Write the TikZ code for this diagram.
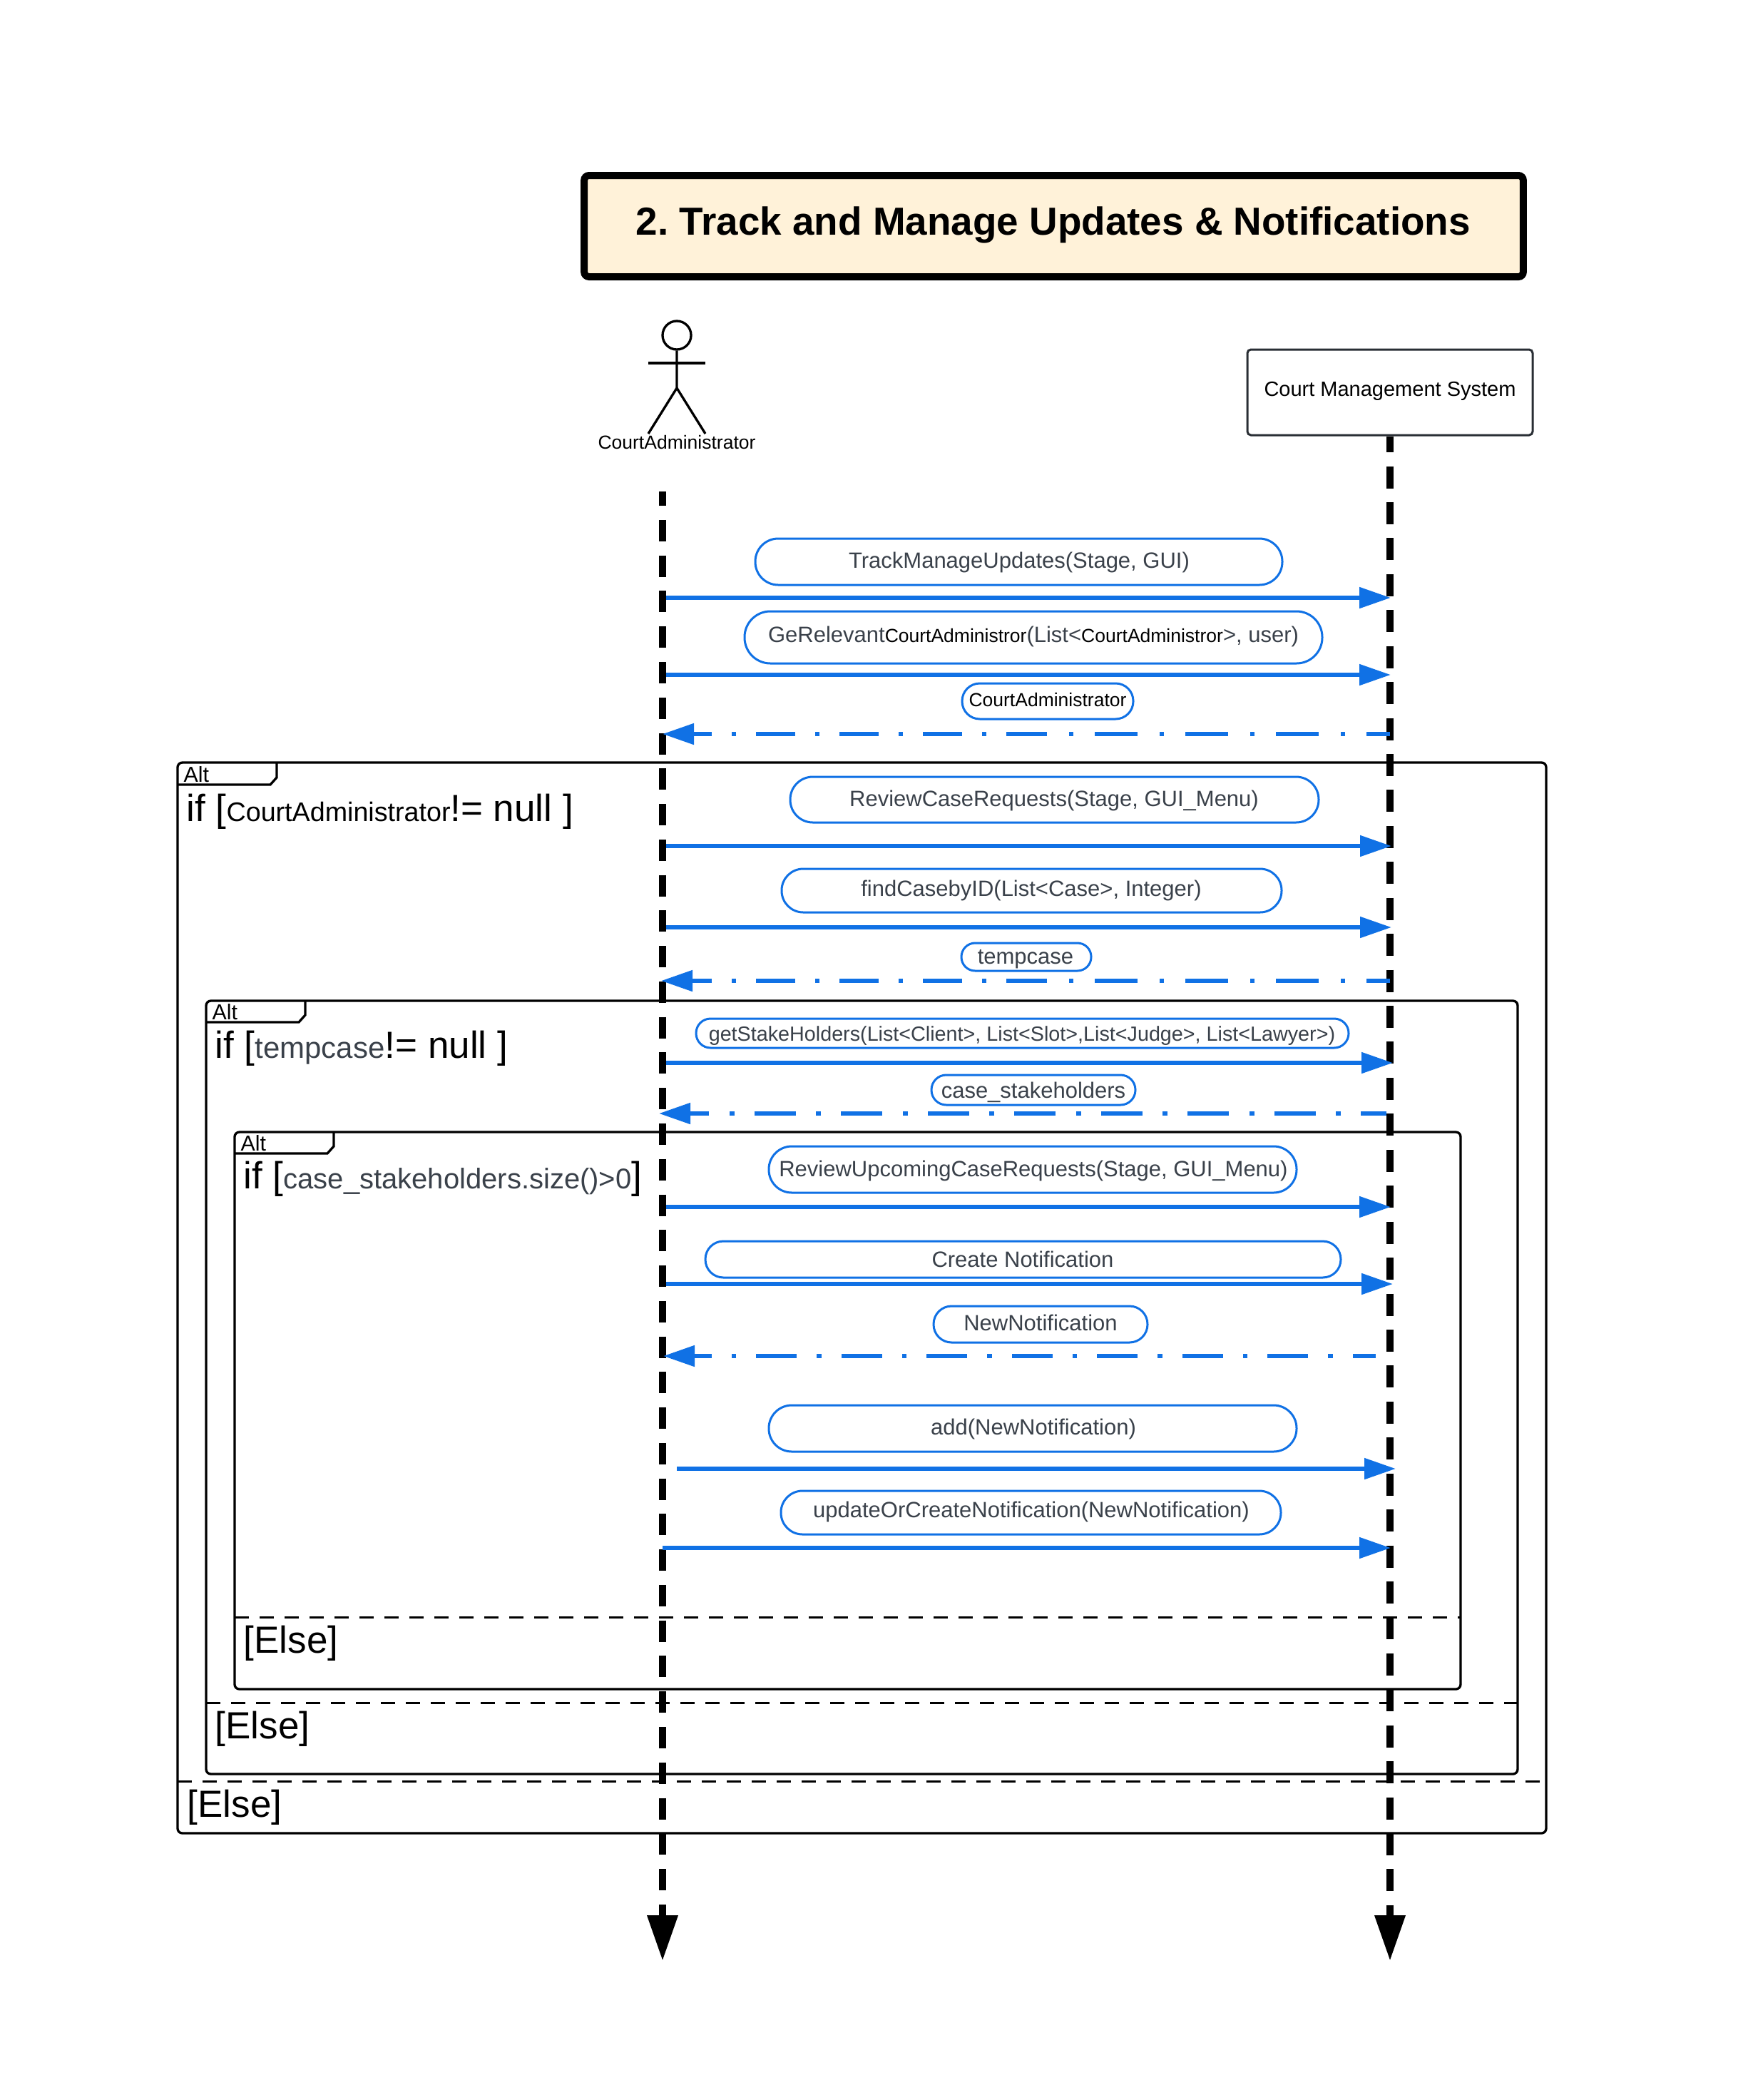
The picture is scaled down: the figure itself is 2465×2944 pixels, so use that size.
\documentclass[tikz,border=0pt]{standalone}
\usepackage{fontspec}
\setmainfont{Liberation Sans}
\usetikzlibrary{arrows.meta}
\definecolor{msgblue}{HTML}{1071E5}
\definecolor{txtgray}{HTML}{3A414A}
\definecolor{titlefill}{HTML}{FFF2D9}
\newcommand\fsTitle{\fontsize{16.45}{20}\selectfont\bfseries\frenchspacing}
\newcommand\fsMsg{\fontsize{9.3}{11}\selectfont}
\newcommand\fsStake{\fontsize{8.62}{11}\selectfont}
\newcommand\fsSmall{\fontsize{7.95}{10}\selectfont}
\newcommand\fsBox{\fontsize{8.7}{11}\selectfont}
\newcommand\fsBig{\fontsize{15.9}{19}\selectfont}
\newcommand\fsMid{\fontsize{12.6}{15}\selectfont}
\newcommand\fsCase{\fontsize{12}{15}\selectfont}
\newcommand\fsCond{\fontsize{11.3}{15}\selectfont}
\newcommand\fsAlt{\fontsize{9.1}{11}\selectfont}
\newcommand\gtxt[1]{\textcolor{txtgray}{#1}}
\tikzset{
  x=0.3pt,y=-0.3pt,
  pillbox/.style={draw=msgblue,line width=0.9pt,fill=white,inner sep=0pt,outer sep=0pt},
  pilltext/.style={inner sep=0pt,text=txtgray,font=\fsMsg},
  callarrow/.style={draw=msgblue,line width=1.8pt,-{Triangle[length=13.2pt,width=8.6pt]}},
  backarrow/.style={draw=msgblue,line width=1.8pt,-{Triangle[length=13.2pt,width=8.6pt]}},
  lifeline/.style={draw=black,line width=3pt,-{Triangle[length=19.2pt,width=12.3pt]}},
  framebox/.style={draw=black,line width=1pt,rounded corners=2pt},
  elseline/.style={draw=black,line width=0.9pt,dash pattern=on 6pt off 4.5pt},
  frametext/.style={inner sep=0pt,anchor=base west,font=\fsBig},
  alttext/.style={inner sep=0pt,anchor=base west,font=\fsAlt},
  longdash/.style={dash pattern=on 9.9pt off 9pt on 1.8pt off 9.3pt on 18pt off 9pt on 1.8pt off 9.3pt on 18pt off 9pt on 1.8pt off 9.3pt on 18pt off 9pt on 1.8pt off 9.3pt on 17.1pt off 8.4pt on 1.8pt off 8.4pt on 16.5pt off 8.4pt on 1.8pt off 8.4pt on 16.5pt off 8.4pt on 1.8pt off 8.4pt on 16.5pt off 8.4pt on 1.8pt off 8.4pt on 40pt off 0pt},
}
\newcommand\pill[5]{\node[pillbox,rounded corners={(#5-#3)*0.3pt*0.495},minimum width={(#4-#2)*0.3pt},minimum height={(#5-#3)*0.3pt}] (#1) at ({(#2+#4)/2},{(#3+#5)/2}) {};}
\begin{document}
\begin{tikzpicture}
\useasboundingbox (0,0) rectangle (2465,2944);
\fill[white] (0,0) rectangle (2465,2944);

% frames
\draw[framebox] (249,1069) rectangle (2168,2570);
\draw[framebox] (289,1403) rectangle (2128,2487);
\draw[framebox] (329,1587) rectangle (2048,2368);
\draw[line width=1pt] (249,1100) -- (379,1100) -- (388,1090) -- (388,1069);
\draw[line width=1pt] (289,1433) -- (419,1433) -- (428,1423) -- (428,1403);
\draw[line width=1pt] (329,1617) -- (459,1617) -- (468,1607) -- (468,1587);
\node[alttext] (alt1) at (257,1096) {Alt};
\node[alttext] (alt2) at (297,1429) {Alt};
\node[alttext] (alt3) at (337,1613) {Alt};
\node[frametext] (cond1) at (261,1151) {if [\fsCond CourtAdministrator\fsBig!= null ]};
\node[frametext] (cond2) at (301,1483) {if [\fsMid\gtxt{tempcase}\fsBig!= null ]};
\node[frametext] (cond3) at (341,1666) {if [\fsCase\gtxt{case\_stakeholders.size()>0}\fsBig]};
\coordinate (e1a) at (249,2497); \coordinate (e1b) at (2160,2497);
\coordinate (e2a) at (289,2387); \coordinate (e2b) at (2128,2387);
\coordinate (e3a) at (329,2267); \coordinate (e3b) at (2048,2267);
\draw[elseline] (e1a) -- (e1b);
\draw[elseline] (e2a) -- (e2b);
\draw[elseline] (e3a) -- (e3b);
\node[frametext] (else1) at (262,2547) {[Else]};
\node[frametext] (else2) at (301,2437) {[Else]};
\node[frametext] (else3) at (341,2317) {[Else]};

% title
\node[draw=black,line width=3pt,fill=titlefill,rounded corners=2pt,minimum width=395pt,minimum height=42.6pt,inner sep=0pt,font=\fsTitle] (title) at (1477.5,317) {};
\node[inner sep=0pt,font=\fsTitle] (titletext) at (1477,315) {2. Track and Manage Updates \& Notifications};

% actor
\node[draw=black,line width=1pt,circle,minimum size=12pt,inner sep=0pt] (head) at (949,470) {};
\coordinate (neck) at (949,490); \coordinate (hip) at (949,544);
\coordinate (handl) at (909,509); \coordinate (handr) at (989,509);
\coordinate (arms) at (949,509);
\coordinate (footl) at (909,608); \coordinate (footr) at (989,608);
\draw[line width=1pt] (head.south) -- (hip) -- (footl);
\draw[line width=1pt] (hip) -- (footr);
\draw[line width=1pt] (handl) -- (handr);
\node[inner sep=0pt,font=\fsSmall] (actor) at (949,620) {CourtAdministrator};

% system box
\node[draw=txtgray!70!black,line width=0.9pt,fill=white,rounded corners=1.5pt,minimum width=120pt,minimum height=36pt,inner sep=0pt] (cms) at (1949,550) {};
\node[inner sep=0pt,font=\fsBox] (cmstext) at (1949,548) {Court Management System};

% lifelines
\coordinate (ltop) at (929,689); \coordinate (lbot) at (929,2749);
\coordinate (rbot) at (1949,2749);
\draw[lifeline,dash pattern=on 9pt off 5.93pt,dash phase=2.95pt] (ltop) -- (lbot);
\draw[lifeline,dash pattern=on 9.3pt off 5.83pt,dash phase=2.52pt] (cms.south) -- (rbot);

% message labels
\pill{p1}{1059}{755}{1798}{820}
\node[pilltext] (t1) at (1429,788) {TrackManageUpdates(Stage, GUI)};
\pill{p2}{1044}{857}{1854}{930}
\node[pilltext] (t2) at (1449,892) {GeRelevant{\fsSmall\textcolor{black}{CourtAdministror}}(List<{\fsSmall\textcolor{black}{CourtAdministror}}>, user)};
\pill{p3}{1349}{958}{1589}{1008}
\node[pilltext,text=black,font=\fsSmall] (t3) at (1469,981) {CourtAdministrator};
\pill{p4}{1108}{1089}{1849}{1153}
\node[pilltext] (t4) at (1478,1122) {ReviewCaseRequests(Stage, GUI\_Menu)};
\pill{p5}{1096}{1218}{1797}{1279}
\node[pilltext] (t5) at (1446,1248) {findCasebyID(List<Case>, Integer)};
\pill{p6}{1348}{1322}{1530}{1361}
\node[pilltext] (t6) at (1438,1345) {tempcase};
\pill{p7}{976}{1428}{1891}{1469}
\node[pilltext,font=\fsStake] (t7) at (1433,1452) {getStakeHolders(List<Client>, List<Slot>,List<Judge>, List<Lawyer>)};
\pill{p8}{1306}{1507}{1592}{1549}
\node[pilltext] (t8) at (1449,1531) {case\_stakeholders};
\pill{p9}{1078}{1607}{1818}{1672}
\node[pilltext] (t9) at (1449,1641) {ReviewUpcomingCaseRequests(Stage, GUI\_Menu)};
\pill{p10}{989}{1740}{1880}{1791}
\node[pilltext] (t10) at (1434,1765) {Create Notification};
\pill{p11}{1309}{1831}{1609}{1882}
\node[pilltext] (t11) at (1459,1854) {NewNotification};
\pill{p12}{1078}{1970}{1818}{2035}
\node[pilltext] (t12) at (1449,2003) {add(NewNotification)};
\pill{p13}{1095}{2090}{1796}{2151}
\node[pilltext] (t13) at (1446,2119) {updateOrCreateNotification(NewNotification)};

% messages
\coordinate (a1) at (934,838);  \coordinate (b1) at (1950,838);
\coordinate (a2) at (934,946);  \coordinate (b2) at (1950,946);
\coordinate (a3) at (1949,1029); \coordinate (b3) at (929,1029);
\coordinate (a4) at (934,1186); \coordinate (b4) at (1951,1186);
\coordinate (a5) at (934,1300); \coordinate (b5) at (1951,1300);
\coordinate (a6) at (1949,1375); \coordinate (b6) at (927,1375);
\coordinate (a7) at (934,1490); \coordinate (b7) at (1953,1490);
\coordinate (a8) at (1944,1561); \coordinate (b8) at (924,1561);
\coordinate (a9) at (934,1692); \coordinate (b9) at (1950,1692);
\coordinate (a10) at (934,1800); \coordinate (b10) at (1953,1800);
\coordinate (a11) at (1929,1901); \coordinate (b11) at (930,1901);
\coordinate (a12) at (949,2059); \coordinate (b12) at (1957,2059);
\coordinate (a13) at (929,2170); \coordinate (b13) at (1950,2170);
\foreach \i in {1,2,4,5,7,9,10,12,13} {\draw[callarrow] (a\i) -- (b\i);}
\draw[backarrow,longdash] (a3) -- (b3);
\draw[backarrow,longdash] (a6) -- (b6);
\draw[backarrow,dash pattern=on 17.4pt off 8.4pt on 2pt off 8.65pt,dash phase=6.6pt] (a8) -- (b8);
\draw[backarrow,dash pattern=on 17pt off 8.4pt on 2pt off 8.45pt,dash phase=7.35pt] (a11) -- (b11);
\end{tikzpicture}
\end{document}
